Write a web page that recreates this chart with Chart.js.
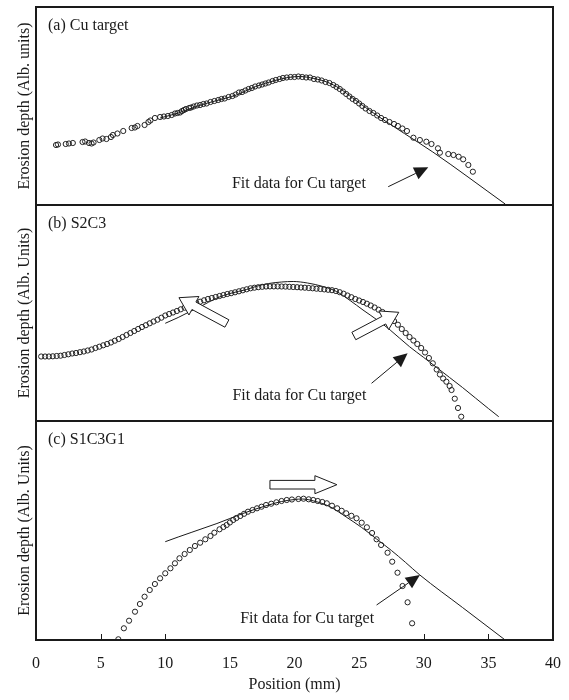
<!DOCTYPE html>
<html>
<head>
<meta charset="utf-8">
<script src="https://cdn.jsdelivr.net/npm/chart.js@4/dist/chart.umd.min.js"></script>
<style>
    body { margin: 0; background: #fff; }
    canvas { display: block; }
</style>
</head>
<body>
<canvas id="chart" width="569" height="700"></canvas>
<script>
const cuX = [1.55,1.7,2.3,2.55,2.85,3.6,3.8,4.1,4.3,4.45,4.9,5.15,5.45,5.8,5.95,6.3,6.75,7.4,7.65,7.85,8.4,8.7,8.85,9.2,9.6,9.9,10.2,10.5,10.75,10.95,11.15,11.3,11.45,11.6,11.85,12.0,12.2,12.45,12.7,12.95,13.2,13.5,13.8,14.1,14.35,14.6,14.9,15.2,15.45,15.7,15.95,16.2,16.45,16.7,16.95,17.25,17.5,17.75,18.0,18.3,18.55,18.85,19.1,19.4,19.7,20.0,20.3,20.6,20.9,21.2,21.5,21.8,22.1,22.4,22.7,23.0,23.25,23.5,23.75,24.0,24.25,24.5,24.75,25.0,25.25,25.5,25.8,26.1,26.4,26.7,27.0,27.35,27.7,28.0,28.35,28.7,29.2,29.7,30.2,30.6,31.1,31.25,31.9,32.3,32.7,33.05,33.45,33.8]
const cuY = [60,60.5,61,61.5,62,63,63.5,62,61.5,62.5,65,66.5,66,68,70,71.5,74,77,77.5,79,80,83,84.5,87,88,88.5,89,90,91.5,92,92.5,94,95,96,97,97.5,98.5,99.5,100,101,101.5,103,104,105,106,106.5,108,109,110.5,112.5,113,114.5,116,117,118.5,119.5,120.5,121.5,122.5,124,125,126,127,127.5,128,128,128.5,128,127.5,127.5,126,125.5,124.5,123,122,120,118,116,113.5,111,108.5,106,104,101.5,99,96.5,94,92,89.5,87,85,83,81,79,76.5,74,67.3,65,63.3,61,56.7,52.3,51,50,48.3,45.7,40,33.3]
const cuFitX = [9.6,11,12.5,14,15.5,17,18.5,19.5,20.4,21.5,22.5,23.5,24.5,25.5,27.1,28.5,30.7,36.3]
const cuFitY = [87,92,99,104.5,110,118.5,124.5,127.5,128.5,126.5,123,116.5,107,97.5,83.3,71.5,53,1]

const s2c3X = [0.4,0.7,1.0,1.3,1.6,1.9,2.2,2.5,2.8,3.1,3.4,3.7,4.0,4.3,4.6,4.9,5.2,5.5,5.8,6.1,6.4,6.7,7.0,7.3,7.6,7.9,8.2,8.5,8.8,9.1,9.4,9.7,10.0,10.3,10.6,10.9,11.2,11.5,11.8,12.1,12.4,12.7,13.0,13.3,13.6,13.9,14.2,14.5,14.8,15.1,15.4,15.7,16.0,16.3,16.6,16.9,17.2,17.5,17.8,18.1,18.4,18.7,19.0,19.3,19.6,19.9,20.2,20.5,20.8,21.1,21.4,21.7,22.0,22.3,22.6,22.9,23.2,23.5,23.8,24.1,24.4,24.7,25.0,25.3,25.6,25.9,26.2,26.5,26.8,27.1,27.4,27.7,28.0,28.3,28.6,28.9,29.2,29.5,29.8,30.1,30.4,30.7,31.0,31.25,31.5,31.75,32.0,32.15,32.4,32.65,32.9]
const s2c3Y = [64.5,64.5,64.5,64.7,65,65.3,66,66.7,67.5,68,68.8,69.5,70.5,71.5,73,74.3,75.7,77,78.5,80.3,82,84,86,88,90,92,94,95.8,97.7,99.5,101.3,103.3,105.5,107,108.5,110,111.7,113.3,114.7,116.3,118,119.3,120.7,122,123,124,125,126,127,127.8,128.7,129.7,130.7,131.7,132.7,133.3,133.8,134.2,134.5,134.6,134.6,134.6,134.5,134.4,134.2,134,133.8,133.5,133.3,133,132.7,132.3,132,131.6,131.2,130.8,130,128.8,127.3,125.5,123.8,122,120.5,119,117.3,115.5,113.5,111.3,109,106.5,103.3,100,96.3,92,88,84,80.5,77,73,68.5,63,57.7,51.5,46.5,42.5,39.3,35,31,22.3,13,4.3]
const s2c3FitX = [10,11,12,12.7,14,15,16.3,17,18,19,19.9,21,22.2,23.25,24.3,25.3,26.4,27.4,28.9,30,31,32,33,34,35,35.8]
const s2c3FitY = [97.7,103.5,110,114.3,123,127.5,131.5,134.5,137.5,139,139.5,138,134.5,129.5,120.5,111,101,91,74.3,63.5,53.5,43.5,33.5,23,12.5,4.3]

const s1c3g1X = [6.37,6.8,7.2,7.66,8.04,8.4,8.8,9.2,9.6,10.0,10.4,10.75,11.1,11.5,11.9,12.3,12.7,13.1,13.5,13.8,14.2,14.5,14.75,15.0,15.26,15.5,15.8,16.1,16.4,16.75,17.1,17.45,17.8,18.2,18.6,19.0,19.4,19.8,20.3,20.7,21.1,21.45,21.8,22.15,22.5,22.9,23.3,23.65,24.0,24.4,24.8,25.2,25.6,26.0,26.35,26.7,27.2,27.56,27.97,28.36,28.75,29.1]
const s1c3g1Y = [0.7,11.7,19.3,28.3,36,43.3,50,56,61.7,66.7,71.7,76.7,81.7,86,90,94,97.3,100.7,104,107.3,110.7,113,115,117.5,120,122,124,126.2,128.3,130,131.7,133.3,135,136.3,137.7,139,140,140.5,141,141.3,140.7,140,139,138,136.7,134.3,131.7,129.2,126.7,124.2,121.7,117.3,112.7,107,100.7,95,87.3,78.3,67.3,54,37.7,16.7]
const s1c3g1FitX = [10,11,12,13,14,15,16,17,18,19,20,20.6,21.5,22.74,24,25.2,26.35,27.5,28.6,29.7,33,36.3]
const s1c3g1FitY = [98.3,103,107.5,112,116.5,121.5,126.5,131,135,138.5,140.5,141,139,133.3,123,112.5,101,89.5,77.5,65,32.5,0]

const panelLabels = ['(a) Cu target', '(b) S2C3', '(c) S1C3G1']
const yTitles = ['Erosion depth (Alb. units)', 'Erosion depth (Alb. Units)', 'Erosion depth (Alb. Units)']
const fitNote = 'Fit data for Cu target'
const xTitle = 'Position (mm)'
const innerTicks = [5, 10, 30, 35]

const serif = '"Liberation Serif", "Times New Roman", serif'
const ink = '#1a1a1a'

const toPoints = (xs, ys) => xs.map((x, i) => ({ x: x, y: ys[i] }))

const scatterSet = (xs, ys, axis) => ({
    data: toPoints(xs, ys),
    yAxisID: axis,
    showLine: false,
    pointRadius: 2.6,
    pointBorderWidth: 1,
    pointBorderColor: '#222',
    pointBackgroundColor: 'rgba(255,255,255,0)'
})

const fitSet = (xs, ys, axis) => ({
    data: toPoints(xs, ys),
    yAxisID: axis,
    showLine: true,
    pointRadius: 0,
    borderWidth: 1,
    borderColor: ink,
    cubicInterpolationMode: 'monotone'
})

const yAxis = (title, top, weight) => ({
    type: 'linear',
    position: 'left',
    stack: 'panels',
    stackWeight: top,
    weight: weight,
    min: 0,
    max: top,
    ticks: { display: false },
    grid: { display: false },
    border: { display: false },
    title: {
        display: true,
        text: title,
        color: ink,
        font: { family: serif, size: 16 },
        padding: { top: 15, bottom: 0 }
    },
    afterFit: s => { s.width = 36 }
})

// annotations: [panel axis, x, y] in data units
const notes = [['ya', 15.16, 21], ['yb', 15.2, 25], ['yc', 15.8, 21]]
const solidArrows = [
    ['ya', 27.25, 18.3, 30.35, 37.7],
    ['yb', 25.96, 37.7, 28.75, 67.7],
    ['yc', 26.35, 35, 29.7, 65]
]
const hollowArrows = [
    ['yb', 14.77, 97.5, 11.06, 123.3, 4.2, 10.5, 17],
    ['yb', 24.59, 85, 28.07, 108.7, 4.2, 10.5, 17],
    ['yc', 18.1, 155.3, 23.28, 155.3, 4.3, 9, 22]
]

const drawSolid = (ctx, x1, y1, x2, y2) => {
    const a = Math.atan2(y2 - y1, x2 - x1)
    const len = 14, half = 6.5
    const bx = x2 - Math.cos(a) * len, by = y2 - Math.sin(a) * len
    ctx.beginPath()
    ctx.moveTo(x1, y1)
    ctx.lineTo(bx, by)
    ctx.stroke()
    ctx.beginPath()
    ctx.moveTo(x2, y2)
    ctx.lineTo(bx - Math.sin(a) * half, by + Math.cos(a) * half)
    ctx.lineTo(bx + Math.sin(a) * half, by - Math.cos(a) * half)
    ctx.closePath()
    ctx.fill()
}

const drawHollow = (ctx, x1, y1, x2, y2, s, h, len) => {
    const a = Math.atan2(y2 - y1, x2 - x1)
    const nx = -Math.sin(a), ny = Math.cos(a)
    const bx = x2 - Math.cos(a) * len, by = y2 - Math.sin(a) * len
    ctx.beginPath()
    ctx.moveTo(x1 + nx * s, y1 + ny * s)
    ctx.lineTo(bx + nx * s, by + ny * s)
    ctx.lineTo(bx + nx * h, by + ny * h)
    ctx.lineTo(x2, y2)
    ctx.lineTo(bx - nx * h, by - ny * h)
    ctx.lineTo(bx - nx * s, by - ny * s)
    ctx.lineTo(x1 - nx * s, y1 - ny * s)
    ctx.closePath()
    ctx.fillStyle = '#fff'
    ctx.fill()
    ctx.stroke()
}

const panelsPlugin = {
    id: 'panels',
    afterDatasetsDraw: chart => {
        const ctx = chart.ctx
        const x = chart.scales.x
        const area = chart.chartArea

        ctx.save()
        ctx.strokeStyle = ink
        ctx.fillStyle = ink
        ctx.lineWidth = 1
        solidArrows.forEach(a => {
            const y = chart.scales[a[0]]
            drawSolid(ctx, x.getPixelForValue(a[1]), y.getPixelForValue(a[2]), x.getPixelForValue(a[3]), y.getPixelForValue(a[4]))
        })
        hollowArrows.forEach(a => {
            const y = chart.scales[a[0]]
            drawHollow(ctx, x.getPixelForValue(a[1]), y.getPixelForValue(a[2]), x.getPixelForValue(a[3]), y.getPixelForValue(a[4]), a[5], a[6], a[7])
        })

        ctx.fillStyle = ink
        ctx.font = `16px ${serif}`
        ctx.textBaseline = 'middle'
        ctx.textAlign = 'left'
        notes.forEach(n => {
            const y = chart.scales[n[0]]
            ctx.fillText(fitNote, x.getPixelForValue(n[1]), y.getPixelForValue(n[2]))
        })

        ;['ya', 'yb', 'yc'].forEach((id, i) => {
            const y = chart.scales[id]
            ctx.fillText(panelLabels[i], area.left + 12, y.top + 19)
        })

        ctx.lineWidth = 2
        ;['ya', 'yb', 'yc'].forEach(id => {
            const y = chart.scales[id]
            ctx.strokeRect(area.left, y.top, area.right - area.left, y.bottom - y.top)
        })

        ctx.lineWidth = 1
        const yc = chart.scales.yc
        innerTicks.forEach(t => {
            const px = Math.round(x.getPixelForValue(t)) + 0.5
            ctx.beginPath()
            ctx.moveTo(px, yc.bottom)
            ctx.lineTo(px, yc.bottom - 6)
            ctx.stroke()
        })
        ctx.restore()
    }
}

new Chart(document.getElementById('chart'), {
    type: 'scatter',
    data: {
        datasets: [
            scatterSet(cuX, cuY, 'ya'),
            fitSet(cuFitX, cuFitY, 'ya'),
            scatterSet(s2c3X, s2c3Y, 'yb'),
            fitSet(s2c3FitX, s2c3FitY, 'yb'),
            scatterSet(s1c3g1X, s1c3g1Y, 'yc'),
            fitSet(s1c3g1FitX, s1c3g1FitY, 'yc')
        ]
    },
    options: {
        responsive: false,
        animation: false,
        layout: { padding: { top: 7, right: 16, left: 0, bottom: 0 } },
        plugins: {
            legend: { display: false },
            tooltip: { enabled: false }
        },
        scales: {
            x: {
                type: 'linear',
                position: 'bottom',
                min: 0,
                max: 40,
                ticks: {
                    stepSize: 5,
                    color: ink,
                    padding: 14,
                    font: { family: serif, size: 16 }
                },
                grid: { display: false, drawTicks: false },
                border: { display: false },
                title: {
                    display: true,
                    text: xTitle,
                    color: ink,
                    font: { family: serif, size: 16 },
                    padding: { top: 0, bottom: 6 }
                },
                afterFit: s => {
                    s.height = 60
                    s.paddingLeft = 0
                    s.paddingRight = 0
                }
            },
            ya: yAxis(yTitles[0], 198, 3),
            yb: yAxis(yTitles[1], 216, 2),
            yc: yAxis(yTitles[2], 219, 1)
        }
    },
    plugins: [panelsPlugin]
})
</script>
</body>
</html>
